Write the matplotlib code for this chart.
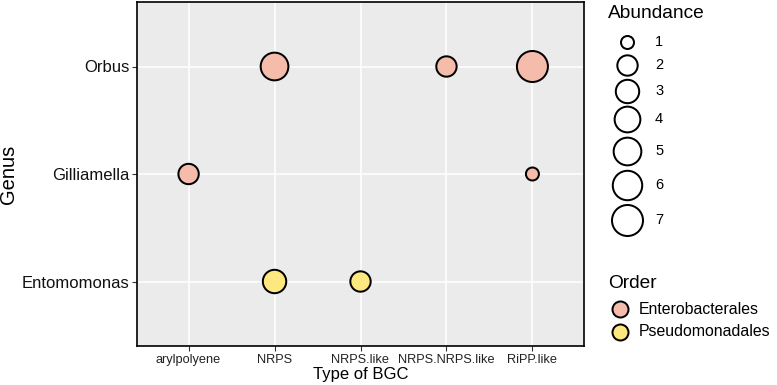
import matplotlib
matplotlib.use('Agg')
import matplotlib.pyplot as plt
import numpy as np

plt.rcParams['font.family'] = ['Liberation Sans', 'DejaVu Sans']

# data
bgc_types = ['arylpolyene', 'NRPS', 'NRPS.like', 'NRPS.NRPS.like', 'RiPP.like']
genera = ['Entomomonas', 'Gilliamella', 'Orbus']
orders = ['Enterobacterales', 'Pseudomonadales']
order_colors = {'Enterobacterales': '#F6BCAB', 'Pseudomonadales': '#FDE880'}

point_genus = ['Orbus', 'Orbus', 'Orbus', 'Gilliamella', 'Gilliamella', 'Entomomonas', 'Entomomonas']
point_type = ['NRPS', 'NRPS.NRPS.like', 'RiPP.like', 'arylpolyene', 'RiPP.like', 'NRPS', 'NRPS.like']
point_abund = [5, 2, 7, 2, 1, 3, 2]
point_order = ['Enterobacterales', 'Enterobacterales', 'Enterobacterales', 'Enterobacterales',
               'Enterobacterales', 'Pseudomonadales', 'Pseudomonadales']

abund_levels = [1, 2, 3, 4, 5, 6, 7]

DPI = 100
EDGE_PX = 2.0


def diam_px(v):
    # ggplot-like area scale, range 1..6, mapped to pixels
    size = 1 + 5 * np.sqrt((np.asarray(v, float) - 1) / 6.0)
    return 11.4 + 3.6 * size


def marker_s(d):
    d_pt = (np.asarray(d) - EDGE_PX) * 72.0 / DPI
    return d_pt ** 2


fig = plt.figure(figsize=(7.77, 3.85), dpi=DPI)
ax = fig.add_axes([137 / 777, 1 - 346 / 385, (584 - 137) / 777, (346 - 2) / 385])
ax.set_facecolor('#EBEBEB')

xs = [bgc_types.index(t) for t in point_type]
ys = [genera.index(g) for g in point_genus]
cols = [order_colors[o] for o in point_order]
ax.scatter(xs, ys, s=marker_s(diam_px(point_abund)), c=cols, edgecolors='black',
           linewidths=EDGE_PX * 72 / DPI, zorder=3)

ax.set_xlim(-0.6, len(bgc_types) - 0.4)
ax.set_ylim(-0.6, len(genera) - 0.4)
ax.set_xticks(range(len(bgc_types)))
ax.set_xticklabels(bgc_types, fontsize=9.2, color='#222222')
ax.set_yticks(range(len(genera)))
ax.set_yticklabels(genera, fontsize=12, color='#111111')
ax.grid(True, color='white', linewidth=1.1)
ax.set_axisbelow(True)
ax.tick_params(length=3.5, width=0.8, color='#333333', pad=2)
for sp in ax.spines.values():
    sp.set_linewidth(1.2)
    sp.set_color('black')

ax.set_xlabel('Type of BGC', fontsize=12, labelpad=1)
fig.text(9 / 777, 1 - 174 / 385, 'Genus', fontsize=14.5, rotation=90,
         ha='center', va='center')

# legends drawn in pixel coordinates
lg = fig.add_axes([0, 0, 1, 1])
lg.set_xlim(0, 777)
lg.set_ylim(385, 0)
lg.axis('off')

lg.text(608, 14, 'Abundance', fontsize=13.8, va='center', ha='left')
d_leg = diam_px(abund_levels)
row_h = np.maximum(22, d_leg * 1.2 - 3)
y = 42.0
for i, v in enumerate(abund_levels):
    if i > 0:
        y += (row_h[i - 1] + row_h[i]) / 2
    lg.scatter([627], [y], s=marker_s(d_leg[i]), facecolors='white', edgecolors='black',
               linewidths=EDGE_PX * 72 / DPI)
    lg.text(655, y, str(v), fontsize=10.5, va='center', ha='left')

lg.text(608, 283, 'Order', fontsize=13.8, va='center', ha='left')
for i, o in enumerate(orders):
    yy = 309 + i * 23
    lg.scatter([620], [yy], s=marker_s(18), facecolors=order_colors[o], edgecolors='black',
               linewidths=EDGE_PX * 72 / DPI)
    lg.text(639, yy, o, fontsize=11.4, va='center', ha='left')

fig.savefig('out.png', dpi=DPI)
